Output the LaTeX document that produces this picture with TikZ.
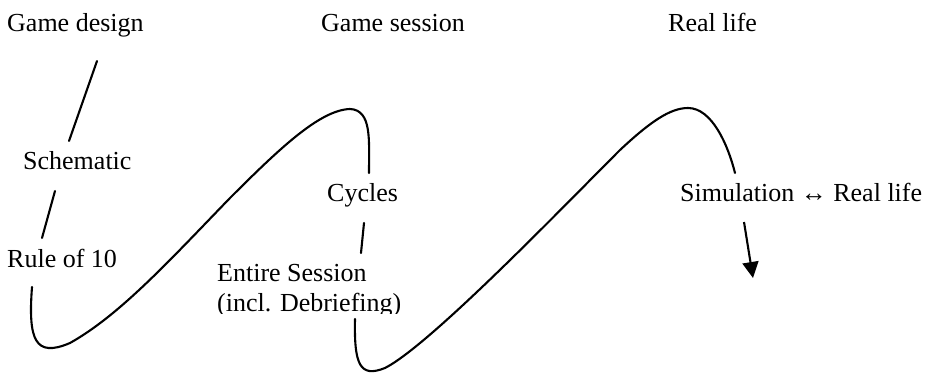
\documentclass[tikz,border=0pt]{standalone}
\usepackage{fontspec}
\setmainfont{Liberation Serif}
\usetikzlibrary{arrows.meta}
\begin{document}
\begin{tikzpicture}[x=1pt,y=-1pt,
  lbl/.style={inner sep=0pt,anchor=base west,font=\fontsize{26}{30}\selectfont,align=left},
  link/.style={line width=2.1pt,line cap=round}]
\useasboundingbox (0,0) rectangle (929,374);
% titles
\node[lbl] (design)  at (7,32)   {Game design};
\node[lbl] (session) at (321,32) {Game session};
\node[lbl] (real)    at (668,32) {Real life};
% labels
\node[lbl] (schem) at (23,170)  {Schematic};
\node[lbl] (rule)  at (7,267)   {Rule of 10};
\node[lbl] (cyc)   at (327,202) {Cycles};
\begin{scope}
\clip (200,250) rectangle (420,313);
\node[lbl] (entire) at (217,311) {Entire Session\\(incl. Debriefing)};
\end{scope}
\node[lbl] (sim) at (680,202) {Simulation ↔ Real life};
% connector points
\coordinate (a1) at (97,61);   \coordinate (a2) at (69,141);
\coordinate (b1) at (55,191);  \coordinate (b2) at (42,238);
\coordinate (c1) at (32,287);  \coordinate (c2) at (369,173);
\coordinate (d1) at (364,223); \coordinate (d2) at (361,253);
\coordinate (e1) at (355,319); \coordinate (e2) at (735,173);
\coordinate (f1) at (744,222); \coordinate (f2) at (753,278);
% connectors
\draw[link] (a1) -- (a2);
\draw[link] (b1) -- (b2);
\draw[link] (c1) .. controls (28,340) and (35,358) .. (70,343)
  .. controls (120,315) and (170,260) .. (230,198)
  .. controls (280,148) and (320,110) .. (350,109)
  .. controls (372,110) and (369,140) .. (c2);
\draw[link] (d1) -- (d2);
\draw[link] (e1) .. controls (354,365) and (360,378) .. (385,368)
  .. controls (430,345) and (560,210) .. (620,150)
  .. controls (650,122) and (670,108) .. (688,108)
  .. controls (712,108) and (728,145) .. (e2);
\draw[line width=2.1pt,-{Triangle[length=16pt,width=16pt]}] (f1) -- (f2);
\end{tikzpicture}
\end{document}
